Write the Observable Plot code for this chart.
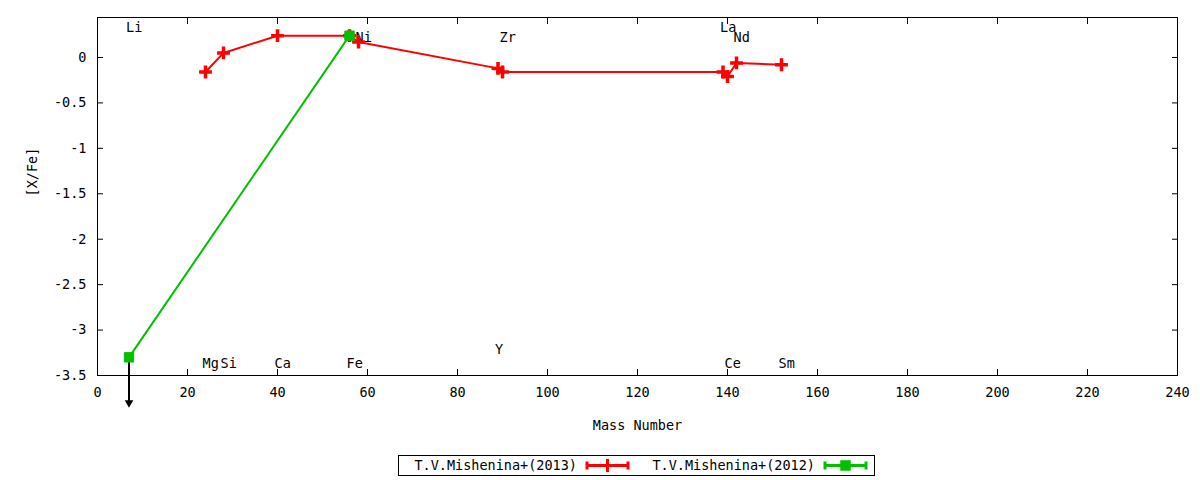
<!DOCTYPE html>
<html>
<head>
<meta charset="utf-8">
<script src="https://cdn.jsdelivr.net/npm/d3@7"></script>
<script src="https://cdn.jsdelivr.net/npm/@observablehq/plot@0.6"></script>
<style>
  body { margin: 0; background: #fff; }
  #chart svg { display: block; }
</style>
</head>
<body>
<div id="chart"></div>
<script>
// Data
const redMass = [24, 28, 40, 56, 58, 89, 90, 139, 140, 142, 152];
const redVal  = [-0.16, 0.05, 0.24, 0.24, 0.17, -0.12, -0.16, -0.16, -0.21, -0.06, -0.08];
const greenMass = [7, 56];
const greenVal  = [-3.3, 0.24];
const limitMass = [7];
const limitFrom = [-3.3];
const limitTo   = [-3.8];
const elemNames = ["Li", "Mg", "Si", "Ca", "Fe", "Ni", "Y", "Zr", "La", "Ce", "Nd", "Sm"];
const elemMass  = [7, 24, 28, 40, 56, 58, 89, 90, 139, 140, 142, 152];
const elemLabelY = [0.33, -3.37, -3.37, -3.37, -3.37, 0.22, -3.22, 0.22, 0.33, -3.37, 0.22, -3.37];
const xTicks = d3.range(0, 241, 20);
const yTicks = [-3.5, -3, -2.5, -2, -1.5, -1, -0.5, 0];
const seriesNames = ["T.V.Mishenina+(2013)", "T.V.Mishenina+(2012)"];
const seriesColors = ["#ff0000", "#00c000"];

const red = redMass.map((m, i) => ({mass: m, val: redVal[i]}));
const green = greenMass.map((m, i) => ({mass: m, val: greenVal[i]}));
const limits = limitMass.map((m, i) => ({mass: m, from: limitFrom[i], to: limitTo[i]}));
const elems = elemNames.map((n, i) => ({name: n, mass: elemMass[i], y: elemLabelY[i]}));

const FONT = "'DejaVu Sans Mono', monospace";

const plot = Plot.plot({
  width: 1200,
  height: 440,
  marginLeft: 97,
  marginRight: 23,
  marginTop: 17,
  marginBottom: 65,
  style: {fontFamily: FONT, fontSize: "13.5px", color: "#000", background: "#fff"},
  x: {domain: [0, 240]},
  y: {domain: [-3.5, 0.44]},
  marks: [
    Plot.frame({stroke: "#000", strokeWidth: 1}),
    // inward ticks on all four sides
    Plot.axisX({ticks: xTicks, anchor: "bottom", tickSize: -6, tickFormat: () => "", label: null}),
    Plot.axisX({ticks: xTicks, anchor: "top", tickSize: -6, tickFormat: () => "", label: null}),
    Plot.axisY({ticks: yTicks, anchor: "left", tickSize: -6, tickFormat: () => "", label: null}),
    Plot.axisY({ticks: yTicks, anchor: "right", tickSize: -6, tickFormat: () => "", label: null}),
    // tick labels
    Plot.axisX({ticks: xTicks, anchor: "bottom", tickSize: 0, tickPadding: 12, label: null, tickFormat: d => String(d)}),
    Plot.axisY({ticks: yTicks, anchor: "left", tickSize: 0, tickPadding: 11, label: null, tickFormat: d => String(d)}),
    // axis titles
    Plot.text(["Mass Number"], {frameAnchor: "bottom", dy: 54, text: d => d}),
    Plot.text(["[X/Fe]"], {frameAnchor: "left", dx: -65, rotate: -90, text: d => d}),
    // element labels
    Plot.text(elems, {x: "mass", y: "y", text: "name", textAnchor: "start", dx: -3}),
    // upper limit arrow
    Plot.link(limits, {x1: "mass", x2: "mass", y1: "from", y2: "to", stroke: "#000", strokeWidth: 2}),
    Plot.dot(limits, {x: "mass", y: "to", symbol: "triangle", rotate: 180, r: 3.2, fill: "#000", stroke: "none"}),
    // series
    Plot.line(red, {x: "mass", y: "val", stroke: seriesColors[0], strokeWidth: 2}),
    Plot.dot(red, {x: "mass", y: "val", symbol: "plus", r: 4.2, stroke: seriesColors[0], strokeWidth: 3.5}),
    Plot.line(green, {x: "mass", y: "val", stroke: seriesColors[1], strokeWidth: 2}),
    Plot.dot(green, {x: "mass", y: "val", symbol: "square", r: 5.3, fill: seriesColors[1], stroke: seriesColors[1], strokeWidth: 1})
  ]
});
document.getElementById("chart").appendChild(plot);

// Legend below the chart
const leg = d3.create("svg").attr("width", 1200).attr("height", 40)
  .style("display", "block").style("font-family", FONT).style("font-size", "13.5px");
leg.append("rect").attr("x", 398.5).attr("y", 15.5).attr("width", 476).attr("height", 20)
  .attr("fill", "none").attr("stroke", "#000");
const entries = [
  {text: seriesNames[0], color: seriesColors[0], textEnd: 577, x1: 587, x2: 628, sym: d3.symbolPlus},
  {text: seriesNames[1], color: seriesColors[1], textEnd: 815, x1: 825, x2: 866, sym: d3.symbolSquare}
];
for (const e of entries) {
  leg.append("text").attr("x", e.textEnd).attr("y", 25.5).attr("text-anchor", "end")
    .attr("dominant-baseline", "middle").attr("fill", "#000").text(e.text);
  const g = leg.append("g").attr("stroke", e.color).attr("fill", "none");
  g.append("line").attr("x1", e.x1).attr("x2", e.x2).attr("y1", 25.5).attr("y2", 25.5).attr("stroke-width", 3);
  g.append("line").attr("x1", e.x1).attr("x2", e.x1).attr("y1", 21.5).attr("y2", 29.5).attr("stroke-width", 3);
  g.append("line").attr("x1", e.x2).attr("x2", e.x2).attr("y1", 21.5).attr("y2", 29.5).attr("stroke-width", 3);
  g.append("path").attr("transform", `translate(${(e.x1 + e.x2) / 2},25.5)`)
    .attr("d", d3.symbol(e.sym, 56)()).attr("stroke-width", 3)
    .attr("fill", e.sym === d3.symbolSquare ? e.color : "none");
}
document.getElementById("chart").appendChild(leg.node());
</script>
</body>
</html>
